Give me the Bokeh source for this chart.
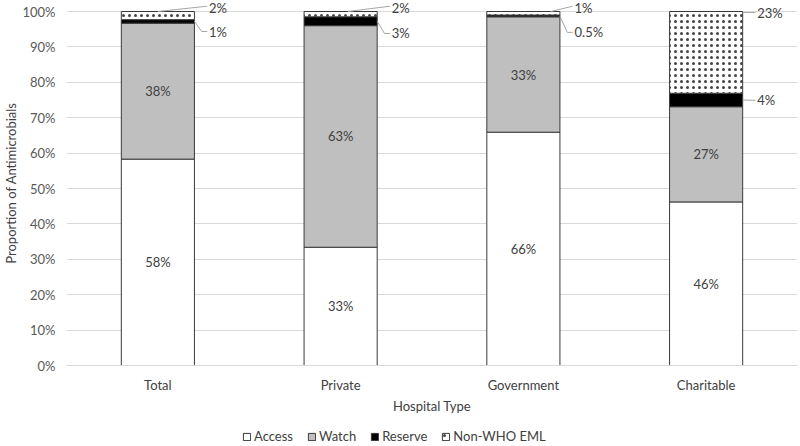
import numpy as np
from bokeh.plotting import figure
from bokeh.layouts import column
from bokeh.models import (Range1d, FixedTicker, Legend, LegendItem, ColumnDataSource,
                          LabelSet, NumeralTickFormatter)
from bokeh.core.properties import value
from bokeh.embed import file_html
from bokeh.resources import INLINE

# ---------------- data ----------------
categories = ["Total", "Private", "Government", "Charitable"]
access = [0.583, 0.334, 0.659, 0.462]
watch = [0.384, 0.626, 0.326, 0.269]
reserve = [0.010, 0.025, 0.005, 0.038]
non_who = [0.023, 0.015, 0.010, 0.231]
access_labels = ["58%", "33%", "66%", "46%"]
watch_labels = ["38%", "63%", "33%", "27%"]
reserve_labels = ["1%", "3%", "0.5%", "4%"]
non_who_labels = ["2%", "2%", "1%", "23%"]
series_names = ["Access", "Watch", "Reserve", "Non-WHO EML"]
y_ticks = [0.0, 0.1, 0.2, 0.3, 0.4, 0.5, 0.6, 0.7, 0.8, 0.9, 1.0]

# ---------------- layout / style constants ----------------
FONT = "Lato"
BAR_W = 0.4
LABEL_DX = 0.28
reserve_label_y = [0.9435, 0.938, 0.941, 0.749]   # label placement (layout only)
nonwho_label_y = [1.011, 1.011, 1.011, 0.997]
nonwho_leader_dx = [0.0, 0.04, 0.15, 0.2]
EDGE = "#3a3a3a"
FILLS = ["white", "#bfbfbf", "black", "white"]
HATCH = dict(hatch_pattern="dot", hatch_color="#444444", hatch_scale=6, hatch_weight=0.5)

x = np.arange(len(categories), dtype=float)
a = np.array(access); w = np.array(watch); r = np.array(reserve); n = np.array(non_who)
b_watch = a
b_res = a + w
b_non = a + w + r
top_non = b_non + n

p = figure(width=800, height=425, output_backend="svg", toolbar_location=None,
           x_range=Range1d(-0.5, 3.5), y_range=Range1d(0, 1 + 11 / 354),
           min_border_left=64, min_border_right=3, min_border_top=0, min_border_bottom=60)
p.outline_line_color = None
p.background_fill_color = "white"

r_access = p.vbar(x=x, bottom=0, top=a, width=BAR_W, fill_color=FILLS[0], line_color=EDGE, line_width=1)
r_watch = p.vbar(x=x, bottom=b_watch, top=b_res, width=BAR_W, fill_color=FILLS[1], line_color=EDGE, line_width=1)
r_res = p.vbar(x=x, bottom=b_res, top=b_non, width=BAR_W, fill_color=FILLS[2], line_color=EDGE, line_width=1)
r_non = p.vbar(x=x, bottom=b_non, top=top_non, width=BAR_W, fill_color=FILLS[3], line_color=EDGE, line_width=1,
               **HATCH)

# in-bar labels
inner = ColumnDataSource(dict(
    x=np.concatenate([x, x]),
    y=np.concatenate([a / 2, b_watch + w / 2]),
    t=access_labels + watch_labels))
p.add_layout(LabelSet(x="x", y="y", text="t", source=inner, text_align="center", text_baseline="middle",
                      text_font=value(FONT), text_font_size="13px", text_color="#404040"))

# outside labels
outer = ColumnDataSource(dict(
    x=np.concatenate([x, x]) + LABEL_DX,
    y=reserve_label_y + nonwho_label_y,
    t=reserve_labels + non_who_labels))
p.add_layout(LabelSet(x="x", y="y", text="t", source=outer, text_align="left", text_baseline="middle",
                      text_font=value(FONT), text_font_size="13px", text_color="#404040"))

# leader lines
xs, ys = [], []
for i in range(len(categories)):
    mid_r = b_res[i] + r[i] / 2
    if abs(reserve_label_y[i] - mid_r) > 0.01:
        xs.append([x[i] + BAR_W / 2, x[i] + 0.24, x[i] + LABEL_DX - 0.01])
        ys.append([mid_r, reserve_label_y[i], reserve_label_y[i]])
    else:
        xs.append([x[i] + BAR_W / 2, x[i] + LABEL_DX - 0.01])
        ys.append([mid_r, reserve_label_y[i]])
    xs.append([x[i] + nonwho_leader_dx[i], x[i] + LABEL_DX - 0.01])
    ys.append([min(top_non[i], 1.0) - (0.003 if i == 3 else 0), nonwho_label_y[i] + (0.004 if i < 3 else 0)])
p.multi_line(xs=xs, ys=ys, line_color="#a6a6a6", line_width=1)

# axes
p.yaxis.ticker = FixedTicker(ticks=y_ticks)
p.yaxis.formatter = NumeralTickFormatter(format="0%")
p.yaxis.axis_line_color = None
p.yaxis.major_tick_line_color = None
p.yaxis.minor_tick_line_color = None
p.yaxis.major_label_text_font = FONT
p.yaxis.major_label_text_font_size = "13px"
p.yaxis.major_label_text_color = "#595959"
p.yaxis.major_label_standoff = 5
p.yaxis.axis_label = "Proportion of Antimicrobials"
p.yaxis.axis_label_text_font = FONT
p.yaxis.axis_label_text_font_size = "13px"
p.yaxis.axis_label_text_font_style = "normal"
p.yaxis.axis_label_text_color = "#404040"
p.yaxis.axis_label_standoff = 0

p.xaxis.ticker = FixedTicker(ticks=list(x))
p.xaxis.major_label_overrides = {int(i): c for i, c in zip(x, categories)}
p.xaxis.axis_line_color = "#d9d9d9"
p.xaxis.major_tick_line_color = None
p.xaxis.minor_tick_line_color = None
p.xaxis.major_label_text_font = FONT
p.xaxis.major_label_text_font_size = "13px"
p.xaxis.major_label_text_color = "#404040"
p.xaxis.major_label_standoff = 5
p.xaxis.axis_label = "Hospital Type"
p.xaxis.axis_label_text_font = FONT
p.xaxis.axis_label_text_font_size = "13px"
p.xaxis.axis_label_text_font_style = "normal"
p.xaxis.axis_label_text_color = "#404040"
p.xaxis.axis_label_standoff = 2

p.xgrid.grid_line_color = None
p.ygrid.ticker = FixedTicker(ticks=y_ticks)
p.ygrid.grid_line_color = "#d9d9d9"
p.ygrid.grid_line_width = 1
p.ygrid.level = "underlay"

# ---------------- legend strip ----------------
lg = figure(width=800, height=21, output_backend="svg", toolbar_location=None,
            x_range=Range1d(0, 1), y_range=Range1d(0, 1),
            min_border_left=0, min_border_right=0, min_border_top=0, min_border_bottom=0)
lg.axis.visible = False
lg.grid.visible = False
lg.outline_line_color = None
lg_src = ColumnDataSource(dict(x=[-10.0], top=[-10.0]))   # off-screen placeholder for legend glyphs
lg_renderers = []
for k, nm in enumerate(series_names):
    extra = HATCH if k == 3 else {}
    lg_renderers.append(lg.vbar(x="x", top="top", width=0.1, source=lg_src, fill_color=FILLS[k],
                                line_color=EDGE, line_width=1, **extra))
legend = Legend(items=[LegendItem(label=nm, renderers=[rr]) for nm, rr in zip(series_names, lg_renderers)],
                orientation="horizontal", location=(176, 2),
                label_text_font=FONT, label_text_font_size="13px", label_text_color="#404040",
                glyph_width=9, glyph_height=9, label_standoff=3, spacing=14,
                padding=1, margin=0, border_line_color=None, background_fill_alpha=0)
lg.add_layout(legend, "center")

layout = column(p, lg, spacing=0)
open("out.html", "w").write(file_html(layout, INLINE))
